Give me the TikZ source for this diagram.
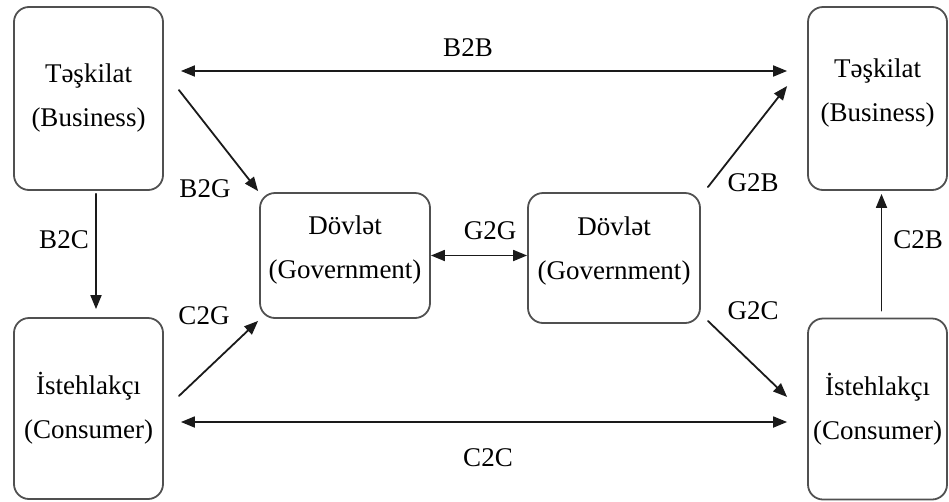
\documentclass[tikz,border=0pt]{standalone}
\usepackage{fontspec}
\setmainfont{Liberation Serif}
\usepackage{tikz}
\usetikzlibrary{arrows.meta}
\definecolor{boxgray}{HTML}{505050}
\definecolor{arrowblack}{HTML}{1A1A1A}
\tikzset{
  party/.style={draw=boxgray, line width=1.8pt, rounded corners=15pt, align=center, inner sep=2pt, font=\fontsize{27}{44}\selectfont},
  flow/.style={draw=arrowblack, line width=1.8pt},
  tag/.style={inner sep=0pt, font=\fontsize{27}{30}\selectfont}
}

\begin{document}
\begin{tikzpicture}[line cap=round,line join=round,>={Triangle[length=14pt,width=11pt]},x=1pt,y=-1pt]
\useasboundingbox (0,0) rectangle (949,501);
% parties
\node[party, minimum width=149, minimum height=183] (biz1) at (88.5,98.5) {Təşkilat\\(Business)};
\node[party, minimum width=149, minimum height=181] (cons1) at (88.5,408.5) {İstehlakçı\\(Consumer)};
\node[party, minimum width=170, minimum height=125, text depth=16pt] (gov1) at (345,255.5) {Dövlət\\(Government)};
\node[party, minimum width=172, minimum height=130, text depth=20pt] (gov2) at (614,258) {Dövlət\\(Government)};
\node[party, minimum width=139, minimum height=183, text depth=16pt] (biz2) at (877.5,98.5) {Təşkilat\\(Business)};
\node[party, minimum width=139, minimum height=181] (cons2) at (877.5,409) {İstehlakçı\\(Consumer)};
% flows
\draw[flow,<->] ([shift={(17,-27.5)}]biz1.east) -- ([shift={(-20,-27.5)}]biz2.west);
\draw[flow,<->] ([shift={(17,13.5)}]cons1.east) -- ([shift={(-20,13)}]cons2.west);
\draw[flow,->] ([shift={(15,-8.5)}]biz1.east) -- ([shift={(-1,-1)}]gov1.north west);
\draw[flow,->] ([shift={(15,-12.5)}]cons1.east) -- ([shift={(-1,2)}]gov1.south west);
\draw[flow,<->] (gov1.east) -- (gov1.east -| gov2.west);
\draw[flow,->] ([shift={(7,-5)}]gov2.north east) -- ([shift={(-20,-12.5)}]biz2.west);
\draw[flow,->] ([shift={(7,-3)}]gov2.south east) -- ([shift={(-20,-12)}]cons2.west);
\draw[flow,->] ([shift={(7.5,3)}]biz1.south) -- ([shift={(7.5,-8)}]cons1.north);
\draw[flow,->] ([shift={(4,-7)}]cons2.north) -- ([shift={(4,3)}]biz2.south);
% labels
\node[tag] (lB2B) at (468,48) {B2B};
\node[tag] (lC2C) at (488,458) {C2C};
\node[tag] (lB2G) at (205,189) {B2G};
\node[tag] (lC2G) at (204,316) {C2G};
\node[tag] (lB2C) at (64,240) {B2C};
\node[tag] (lG2G) at (490,231) {G2G};
\node[tag] (lG2B) at (753,183) {G2B};
\node[tag] (lG2C) at (753,311) {G2C};
\node[tag] (lC2B) at (918,240) {C2B};
\end{tikzpicture}
\end{document}
